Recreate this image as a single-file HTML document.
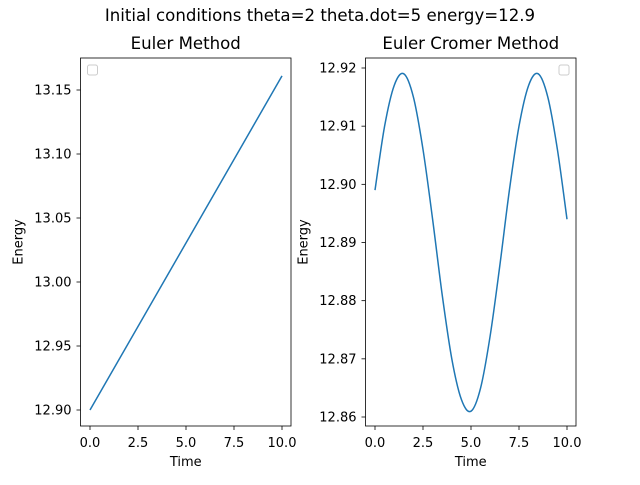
<!DOCTYPE html>
<html><head><meta charset="utf-8"><style>
body{margin:0;background:#fff;}
svg text{font-family:"DejaVu Sans","Liberation Sans",sans-serif;fill:#000;}
</style></head><body>
<svg id="fig" width="640" height="480" viewBox="0 0 640 480" xmlns="http://www.w3.org/2000/svg">
<rect width="640" height="480" fill="#fff"/>
<text x="320" y="21" font-size="16.6" text-anchor="middle">Initial conditions theta=2 theta.dot=5 energy=12.9</text>
<g id="left"></g>
<g id="right"></g>
</svg>
<script>
const eulerT = [0, 10];
const eulerE = [12.900, 13.161];
const ecT = [0,0.5,1,1.5,2,2.5,3,3.5,4,4.5,5,5.5,6,6.5,7,7.5,8,8.5,9,9.5,10];
const ecE = [12.899,12.910,12.917,12.919,12.915,12.906,12.894,12.881,12.870,12.863,12.861,12.865,12.874,12.886,12.899,12.910,12.917,12.919,12.915,12.906,12.894];
const xTicks = [0, 2.5, 5, 7.5, 10];
const xTickLabels = ["0.0","2.5","5.0","7.5","10.0"];
const leftYTicks = [12.90,12.95,13.00,13.05,13.10,13.15];
const leftYLabels = ["12.90","12.95","13.00","13.05","13.10","13.15"];
const rightYTicks = [12.86,12.87,12.88,12.89,12.90,12.91,12.92];
const rightYLabels = ["12.86","12.87","12.88","12.89","12.90","12.91","12.92"];

const NS="http://www.w3.org/2000/svg";
function mk(tag,attrs,parent){const e=document.createElementNS(NS,tag);for(const k in attrs)e.setAttribute(k,attrs[k]);parent.appendChild(e);return e;}

function drawAxes(g,box,xd,yd,T,E,yT,yL,title,legendRight,smooth){
  const sx=v=>box.x0+(v-xd[0])/(xd[1]-xd[0])*(box.x1-box.x0);
  const sy=v=>box.y1-(v-yd[0])/(yd[1]-yd[0])*(box.y1-box.y0);
  const t=mk('text',{x:(box.l+box.r)/2,y:49,'font-size':16.6,'text-anchor':'middle'},g);t.textContent=title;
  
  
  xTicks.forEach((v,i)=>{const x=sx(v);
    const l=mk('line',{x1:x,x2:x,y1:box.b,y2:box.b+4,stroke:'#000','stroke-width':0.8},g);
    
    
    const tx=mk('text',{x:x,y:box.b+21,'font-size':13,'text-anchor':'middle'},g);tx.textContent=xTickLabels[i];
    
    });
  yT.forEach((v,i)=>{const y=sy(v);
    const l=mk('line',{x1:box.l-4,x2:box.l,y1:y,y2:y,stroke:'#000','stroke-width':0.8},g);
    
    
    const tx=mk('text',{x:box.l-9,y:y+4.5,'font-size':13,'text-anchor':'end'},g);tx.textContent=yL[i];
    
    });
  const xl=mk('text',{x:(box.l+box.r)/2,y:466,'font-size':13,'text-anchor':'middle'},g);xl.textContent='Time';
  
  
  const yx=box.l-58, ym=(box.t+box.b)/2;
  const yl=mk('text',{x:yx,y:ym,'font-size':13,'text-anchor':'middle',transform:`rotate(-90 ${yx} ${ym})`},g);yl.textContent='Energy';
  
  
  const P=T.map((v,i)=>[sx(v),sy(E[i])]);
  let d='M'+P[0][0]+','+P[0][1];
  if(smooth){for(let i=0;i<P.length-1;i++){const p0=P[Math.max(0,i-1)],p1=P[i],p2=P[i+1],p3=P[Math.min(P.length-1,i+2)];
    d+=` C${p1[0]+(p2[0]-p0[0])/6},${p1[1]+(p2[1]-p0[1])/6} ${p2[0]-(p3[0]-p1[0])/6},${p2[1]-(p3[1]-p1[1])/6} ${p2[0]},${p2[1]}`;}}
  else{for(let i=1;i<P.length;i++)d+=' L'+P[i][0]+','+P[i][1];}
  const ln=mk('path',{d:d,fill:'none',stroke:'#1f77b4','stroke-width':1.5},g);
  
  
  const fr=mk('rect',{x:box.l,y:box.t,width:box.r-box.l,height:box.b-box.t,fill:'none',stroke:'#000','stroke-width':0.8},g);
  
  
  const lx=legendRight?box.r-17:box.l+7;
  const lg=mk('rect',{x:lx,y:box.t+7,width:10,height:10,rx:2,fill:'#fff',stroke:'#ccc','stroke-width':1},g);
  
  
}
drawAxes(document.getElementById('left'),{l:80.5,r:291,t:58,b:426,x0:90,x1:282,y0:90,y1:410},[0,10],[12.90,13.15],eulerT,eulerE,leftYTicks,leftYLabels,'Euler Method',false,false);
drawAxes(document.getElementById('right'),{l:365.5,r:576,t:58,b:426,x0:375,x1:567,y0:68,y1:417},[0,10],[12.86,12.92],ecT,ecE,rightYTicks,rightYLabels,'Euler Cromer Method',true,true);
</script>
</body></html>
